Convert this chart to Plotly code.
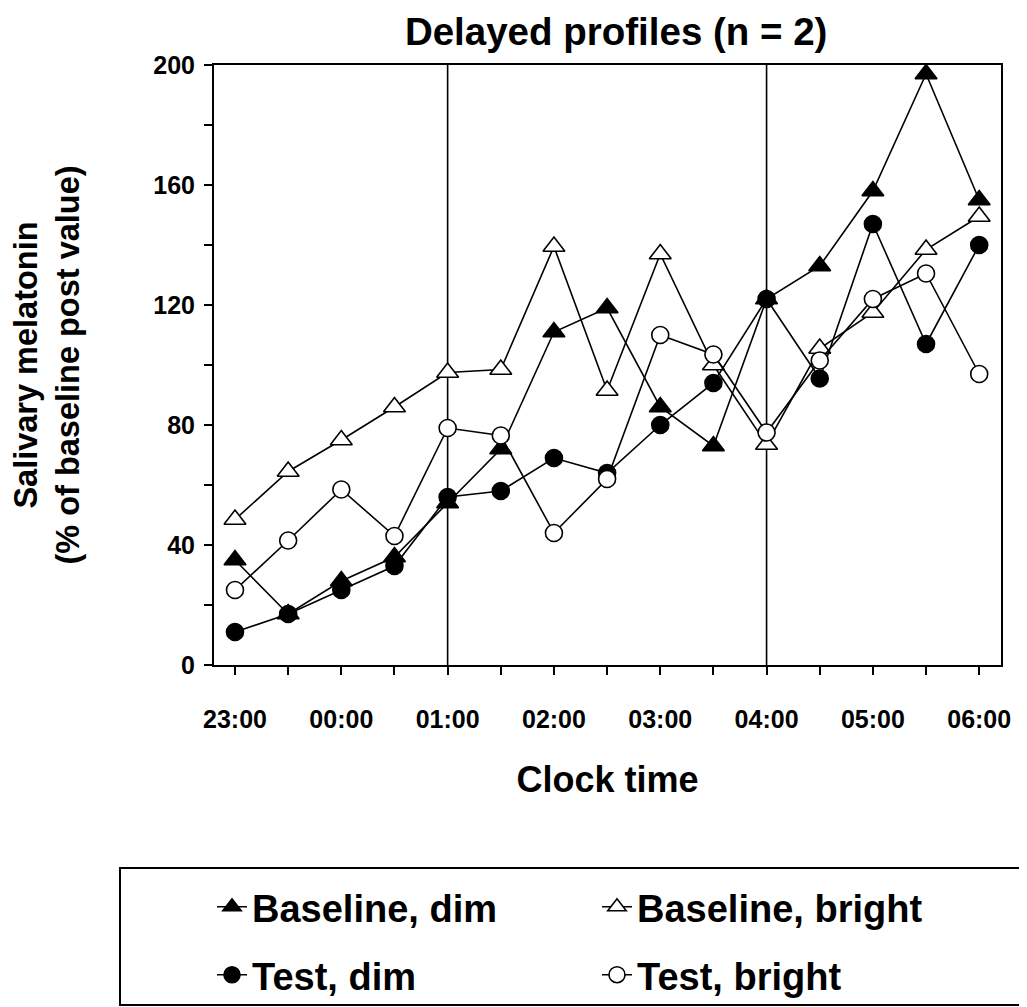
import plotly.graph_objects as go

times = ["23:00", "23:30", "00:00", "00:30", "01:00", "01:30", "02:00", "02:30",
         "03:00", "03:30", "04:00", "04:30", "05:00", "05:30", "06:00"]
x_tick_labels = [t if t.endswith(":00") else "" for t in times]

baseline_dim = [35, 17, 28, 36, 54, 72, 111, 119, 86, 73, 122, 133, 158, 197, 155]
baseline_bright = [48.5, 64.5, 75, 86, 97.5, 98.5, 139.5, 91.5, 137, 100, 73.5, 105.5, 117.5, 138.5, 149.5]
test_dim = [11, 17, 25, 33, 56, 58, 69, 64, 80, 94, 122, 95.5, 147, 107, 140]
test_bright = [25, 41.5, 58.5, 43, 79, 76.5, 44, 62, 110, 103.5, 77.5, 101.5, 122, 130.5, 97]

y_tick_values = list(range(0, 201, 20))
y_tick_labels = [str(v) if v % 40 == 0 else "" for v in y_tick_values]
marker_lines = ["01:00", "04:00"]

xi = list(range(len(times)))

# figure geometry (page body has an 8px margin)
W, H = 1019, 999
ML, MR, MT, MB = 206, 26, 57, 342
PW, PH = W - ML - MR, H - MT - MB

def px_x(px):  # figure pixel -> paper x
    return (px - ML) / PW

def px_y(py):  # figure pixel -> paper y
    return (H - MB - py) / PH

fig = go.Figure()

def add(name, y, symbol, fill, size, legend):
    fig.add_trace(go.Scatter(
        x=xi, y=y, name=name, mode="lines+markers", legend=legend,
        line=dict(color="black", width=1.6),
        marker=dict(symbol=symbol, size=size, color=fill,
                    line=dict(color="black", width=1.6)),
    ))

add("Baseline, dim", baseline_dim, "triangle-up", "black", 19, "legend")
add("Baseline, bright", baseline_bright, "triangle-up", "white", 19, "legend")
add("Test, dim", test_dim, "circle", "black", 17, "legend2")
add("Test, bright", test_bright, "circle", "white", 17, "legend2")

for t in marker_lines:
    fig.add_shape(type="line", xref="x", yref="y", x0=times.index(t), x1=times.index(t),
                  y0=0, y1=200, line=dict(color="black", width=1.6), layer="below")

# legend frame
fig.add_shape(type="rect", xref="paper", yref="paper",
              x0=px_x(112), x1=px_x(W + 10), y0=px_y(997), y1=px_y(860),
              line=dict(color="black", width=2), fillcolor="rgba(0,0,0,0)")

font_fam = "Liberation Sans, Arial, sans-serif"
leg_common = dict(orientation="h", xanchor="left", yanchor="middle",
                  bgcolor="rgba(0,0,0,0)", borderwidth=0,
                  font=dict(size=38, weight="bold", family=font_fam),
                  entrywidth=340, entrywidthmode="pixels",
                  itemsizing="trace", traceorder="normal")

fig.update_layout(
    width=W, height=H,
    margin=dict(l=ML, r=MR, t=MT, b=MB, autoexpand=False),
    paper_bgcolor="white", plot_bgcolor="white",
    font=dict(family=font_fam, color="black", size=25, weight="bold"),
    title=dict(text="Delayed profiles (n = 2)", x=0.511, xanchor="center", xref="paper",
               y=1 - 24 / H, yanchor="middle", yref="container",
               font=dict(size=38.5, weight="bold", family=font_fam)),
    showlegend=True,
    legend=dict(x=px_x(204), y=px_y(899), **leg_common),
    legend2=dict(x=px_x(204), y=px_y(967), **leg_common),
)

fig.update_xaxes(
    range=[-0.395, 14.41], tickvals=xi, ticktext=x_tick_labels,
    showline=True, mirror=True, linecolor="black", linewidth=2,
    ticks="outside", ticklen=8, tickwidth=2, tickcolor="black",
    showgrid=False, zeroline=False, ticklabelstandoff=23,
    tickfont=dict(size=25, weight="bold"),
    title=dict(text="Clock time", font=dict(size=36, weight="bold"), standoff=35),
)
fig.update_yaxes(
    range=[0, 200], tickvals=y_tick_values, ticktext=y_tick_labels,
    showline=True, mirror=True, linecolor="black", linewidth=2,
    ticks="outside", ticklen=8, tickwidth=2, tickcolor="black",
    showgrid=False, zeroline=False, ticklabelstandoff=4,
    tickfont=dict(size=25, weight="bold"),
    title=dict(text="Salivary melatonin<br>(% of baseline post value)",
               font=dict(size=32.5, weight="bold"), standoff=70),
)

fig.write_html("out.html")
